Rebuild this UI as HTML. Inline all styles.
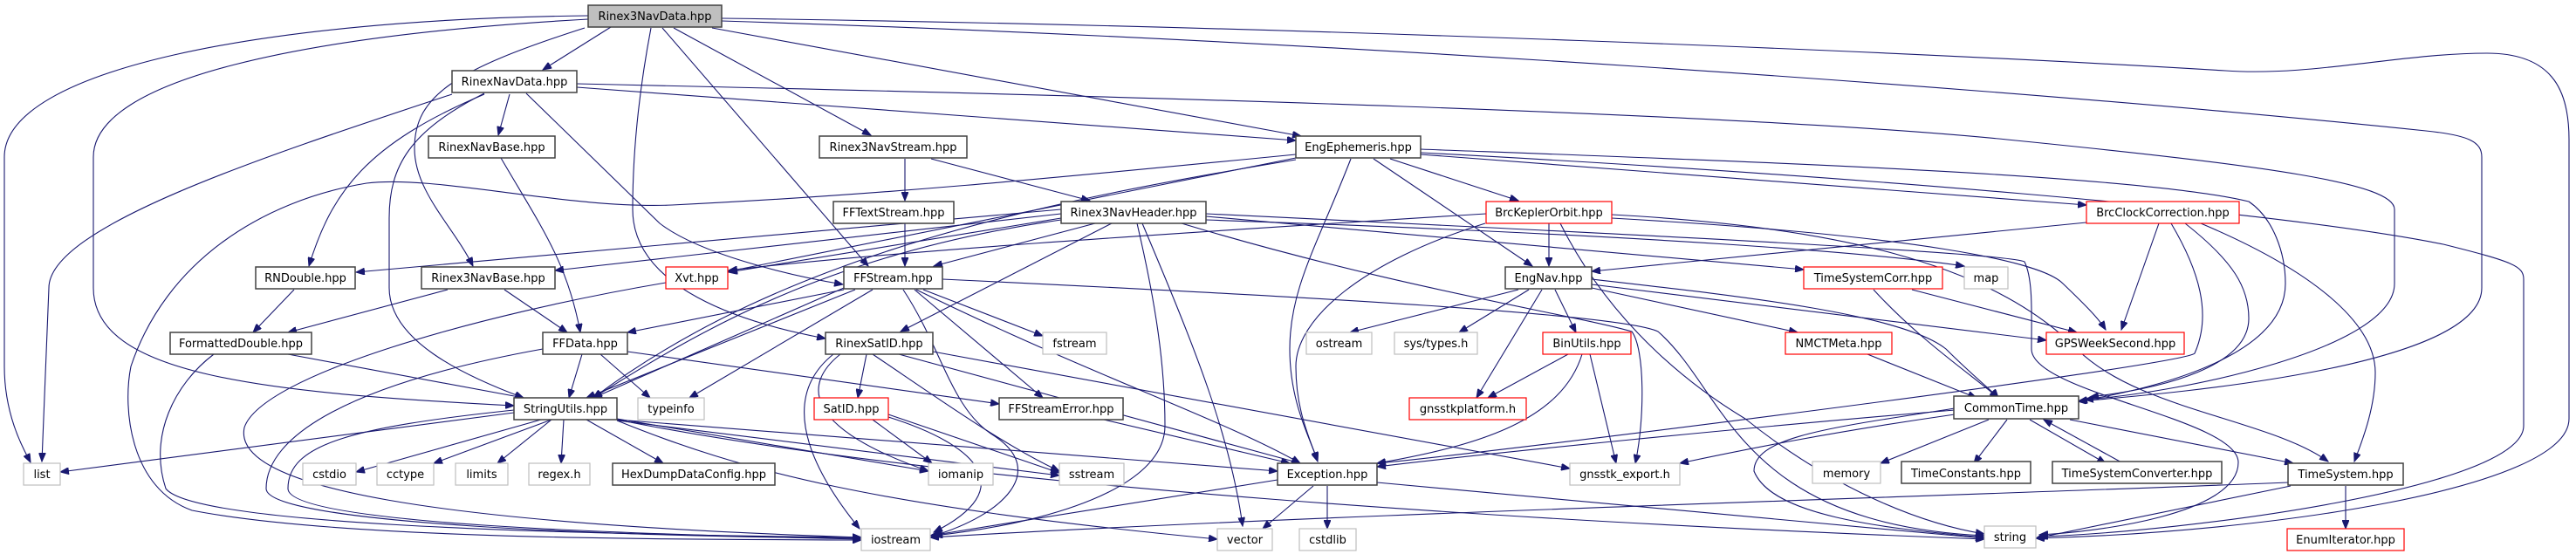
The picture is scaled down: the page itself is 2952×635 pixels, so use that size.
<!DOCTYPE html>
<html><head><meta charset="utf-8"><style>
html,body{margin:0;padding:0;background:#fff}
svg{display:block}
text{font-family:"DejaVu Sans","Liberation Sans",sans-serif;font-size:13px;text-anchor:middle;fill:#000}
.e{fill:none;stroke:#191970;stroke-width:1.1}
.n{fill:#fff;stroke:#404040;stroke-width:1.5}
.g{fill:#fff;stroke:#bfbfbf;stroke-width:1.2}
.r{fill:#fff;stroke:#ff0000;stroke-width:1.2}
</style></head><body>
<svg width="2952" height="635" viewBox="0 0 2952 635" xmlns="http://www.w3.org/2000/svg">
<defs><marker id="a" markerWidth="11" markerHeight="8" refX="10" refY="4" orient="auto" markerUnits="userSpaceOnUse"><path d="M0,0 L10,4 L0,8z" fill="#191970" stroke="#191970"/></marker></defs>
<g class="e" marker-end="url(#a)">
<path d="M674,18 C300,22 5,80 5,180 L5,420 C5,480 30,520 35,530"/>
<path d="M674,22 C350,40 107,90 107,180 L107,330 C107,430 300,450 589,465"/>
<path d="M700,31 L622,80"/>
<path d="M670,32 C520,80 475,110 475,170 C475,220 520,260 542,305"/>
<path d="M746,32 C735,90 725,160 725,240 C725,330 850,370 946,388"/>
<path d="M759,32 L995,305"/>
<path d="M772,32 L998,155"/>
<path d="M816,32 L1491,156"/>
<path d="M827,21 C1500,30 2200,60 2550,81 C2650,88 2750,61 2850,61 C2930,61 2944,110 2944,160 L2944,480 C2944,560 2600,610 2333,617"/>
<path d="M827,24 C1500,45 2300,100 2780,150 C2830,155 2844,163 2844,180 L2844,330 C2844,420 2500,450 2381,460"/>
<path d="M661,96 C1300,110 2000,130 2300,160 C2600,190 2744,210 2744,240 L2744,325 C2744,400 2500,450 2389,458"/>
<path d="M661,100 L1485,161"/>
<path d="M584,108 L571,155"/>
<path d="M555,108 C420,165 380,220 354,305"/>
<path d="M518,108 C300,180 56,260 56,330 L48,529"/>
<path d="M555,107 C470,150 446,190 446,250 L446,330 C446,390 530,430 600,456"/>
<path d="M603,107 L756,256 C800,290 900,315 966,326"/>
<path d="M574,181 C620,260 650,300 665,381"/>
<path d="M1037,182 L1037,230"/>
<path d="M1067,182 L1249,230"/>
<path d="M1037,256 L1037,305"/>
<path d="M1485,177 C1200,205 1000,224 770,235 C650,240 500,200 420,210 C300,230 190,300 150,420 C140,470 150,560 220,585 C400,620 800,618 987,619"/>
<path d="M1485,181 C1300,220 1100,260 835,311"/>
<path d="M1548,182 C1510,280 1478,330 1478,400 C1478,460 1500,500 1510,528"/>
<path d="M1574,182 L1756,305"/>
<path d="M1593,182 L1740,230"/>
<path d="M1628,177 L2391,235"/>
<path d="M1628,171 C2000,185 2450,200 2577,231 C2605,250 2619,290 2619,325 C2619,400 2500,440 2382,460"/>
<path d="M1628,175 C2100,200 2600,240 2800,280 C2880,300 2892,305 2892,320 L2892,488 C2892,560 2500,610 2337,615"/>
<path d="M1485,183 C1200,230 900,290 680,456"/>
<path d="M1216,240 L408,312"/>
<path d="M1216,245 L636,310"/>
<path d="M1216,250 L835,312"/>
<path d="M1255,256 L1070,305"/>
<path d="M1216,252 C950,290 800,380 680,456"/>
<path d="M1274,256 L1032,380"/>
<path d="M1303,256 C1325,350 1335,420 1335,488 C1335,560 1200,600 1070,614"/>
<path d="M1309,256 C1370,400 1410,500 1424,603"/>
<path d="M1354,256 C1600,330 1800,360 1870,380 C1885,400 1885,480 1874,531"/>
<path d="M1382,248 L2067,309"/>
<path d="M1382,252 C1900,270 2150,290 2251,305"/>
<path d="M1382,245 C1900,270 2300,290 2320,300 C2330,320 2328,360 2328,400 C2328,450 2565,480 2565,530 C2565,590 2400,610 2337,613"/>
<path d="M1775,256 L1775,305"/>
<path d="M1703,245 C1300,270 1000,290 835,310"/>
<path d="M1702,256 C1560,300 1485,366 1485,420 C1485,470 1500,500 1510,529"/>
<path d="M1847,250 C2200,270 2340,300 2364,325 C2390,350 2405,365 2413,378"/>
<path d="M1847,246 C2100,260 2280,300 2380,400 C2450,470 2600,480 2668,529"/>
<path d="M1788,256 C1850,380 1950,450 2000,480 C2100,560 2200,600 2274,612"/>
<path d="M2391,255 L1824,311"/>
<path d="M2474,256 L2431,378"/>
<path d="M2504,256 C2560,300 2577,330 2577,365 C2577,420 2480,445 2395,455"/>
<path d="M2488,256 C2520,310 2535,360 2515,405 C2500,420 1700,520 1578,531"/>
<path d="M2522,256 C2650,310 2722,370 2722,427 C2722,470 2705,510 2698,529"/>
<path d="M1740,332 L1547,381"/>
<path d="M1752,332 L1672,381"/>
<path d="M1767,332 L1692,456"/>
<path d="M1782,332 L1806,381"/>
<path d="M1824,326 L2345,390"/>
<path d="M1824,330 L2060,381"/>
<path d="M1824,320 C2000,340 2180,360 2230,400 C2260,430 2285,450 2290,456"/>
<path d="M1797,406 L1705,456"/>
<path d="M1813,406 C1790,480 1700,510 1578,531"/>
<path d="M1822,406 L1852,531"/>
<path d="M763,324 C550,360 300,430 280,490 C265,560 500,600 987,616"/>
<path d="M2147,332 C2200,390 2260,430 2290,456"/>
<path d="M2191,332 L2380,381"/>
<path d="M2140,406 L2265,456"/>
<path d="M2279,481 L2155,531"/>
<path d="M2300,481 L2262,531"/>
<path d="M2326,481 L2413,531"/>
<path d="M2433,531 L2342,481"/>
<path d="M2372,481 L2628,531"/>
<path d="M2240,470 C2000,490 1700,520 1578,535"/>
<path d="M2240,475 C2100,495 2000,515 1925,531"/>
<path d="M2240,468 C2100,490 2010,500 2010,540 C2030,590 2150,605 2274,616"/>
<path d="M2688,557 L2688,606"/>
<path d="M2625,557 L2333,617"/>
<path d="M2622,553 C2200,570 1500,590 1066,616"/>
<path d="M589,473 L69,541"/>
<path d="M620,481 L408,541"/>
<path d="M632,481 L497,531"/>
<path d="M632,481 L570,531"/>
<path d="M646,481 L643,531"/>
<path d="M672,481 L760,531"/>
<path d="M589,470 C400,490 330,510 330,560 C330,600 700,612 987,618"/>
<path d="M707,480 L1064,540"/>
<path d="M707,482 L1214,545"/>
<path d="M707,481 L1464,540"/>
<path d="M707,482 C850,540 1000,580 1395,618"/>
<path d="M707,481 C1100,560 1800,600 2274,618"/>
<path d="M967,332 L719,381"/>
<path d="M967,330 L680,456"/>
<path d="M980,332 L672,456"/>
<path d="M1000,332 L790,456"/>
<path d="M1058,332 L1195,385"/>
<path d="M1048,332 L1195,456"/>
<path d="M1050,332 C1250,430 1400,480 1490,531"/>
<path d="M1035,332 C1080,400 1090,470 1140,500 C1200,540 1150,590 1070,614"/>
<path d="M1080,320 C1500,340 1860,360 1900,380 C1980,450 1990,600 2274,614"/>
<path d="M667,406 L652,456"/>
<path d="M688,406 L745,456"/>
<path d="M622,400 C400,440 305,500 305,560 C305,600 700,615 987,617"/>
<path d="M719,403 L1145,463"/>
<path d="M330,406 L600,456"/>
<path d="M245,406 C200,440 170,500 190,560 C220,600 600,612 987,616"/>
<path d="M337,332 L290,381"/>
<path d="M513,332 L330,381"/>
<path d="M578,332 L650,381"/>
<path d="M993,406 L983,456"/>
<path d="M963,406 C920,440 920,490 1064,540"/>
<path d="M955,406 C900,450 915,520 985,606"/>
<path d="M1000,406 C1080,460 1150,510 1214,540"/>
<path d="M1030,406 L1490,531"/>
<path d="M1069,403 L1799,537"/>
<path d="M1000,481 L1068,531"/>
<path d="M1018,475 L1214,542"/>
<path d="M1018,478 C1120,510 1170,560 1070,610"/>
<path d="M1265,481 L1478,531"/>
<path d="M1464,550 L1066,614"/>
<path d="M1505,557 L1447,606"/>
<path d="M1521,557 L1521,606"/>
<path d="M1578,553 L2274,617"/>
</g>
<g>
<rect x="674" y="6" width="153" height="25" fill="#bfbfbf" stroke="#404040" stroke-width="1.5"/><text x="750.5" y="23">Rinex3NavData.hpp</text>
<rect class="n" x="518" y="81" width="143" height="25"/><text x="589.5" y="98">RinexNavData.hpp</text>
<rect class="n" x="491" y="156" width="145" height="25"/><text x="563.5" y="173">RinexNavBase.hpp</text>
<rect class="n" x="939" y="156" width="169" height="25"/><text x="1023.5" y="173">Rinex3NavStream.hpp</text>
<rect class="n" x="1485" y="156" width="143" height="25"/><text x="1556.5" y="173">EngEphemeris.hpp</text>
<rect class="n" x="955" y="231" width="138" height="25"/><text x="1024" y="248">FFTextStream.hpp</text>
<rect class="n" x="1216" y="231" width="166" height="25"/><text x="1299" y="248">Rinex3NavHeader.hpp</text>
<rect class="r" x="1703" y="231" width="144" height="25"/><text x="1775" y="248">BrcKeplerOrbit.hpp</text>
<rect class="r" x="2391" y="231" width="175" height="25"/><text x="2478.5" y="248">BrcClockCorrection.hpp</text>
<rect class="n" x="293" y="306" width="114" height="25"/><text x="350" y="323">RNDouble.hpp</text>
<rect class="n" x="483" y="306" width="153" height="25"/><text x="559.5" y="323">Rinex3NavBase.hpp</text>
<rect class="r" x="763" y="306" width="71" height="25"/><text x="798.5" y="323">Xvt.hpp</text>
<rect class="n" x="967" y="306" width="113" height="25"/><text x="1023.5" y="323">FFStream.hpp</text>
<rect class="n" x="1725" y="306" width="99" height="25"/><text x="1774.5" y="323">EngNav.hpp</text>
<rect class="r" x="2067" y="306" width="159" height="25"/><text x="2146.5" y="323">TimeSystemCorr.hpp</text>
<rect class="g" x="2251" y="306" width="50" height="25"/><text x="2276" y="323">map</text>
<rect class="n" x="195" y="381" width="162" height="25"/><text x="276" y="398">FormattedDouble.hpp</text>
<rect class="n" x="622" y="381" width="97" height="25"/><text x="670.5" y="398">FFData.hpp</text>
<rect class="n" x="946" y="381" width="123" height="25"/><text x="1007.5" y="398">RinexSatID.hpp</text>
<rect class="g" x="1195" y="381" width="73" height="25"/><text x="1231.5" y="398">fstream</text>
<rect class="g" x="1497" y="381" width="75" height="25"/><text x="1534.5" y="398">ostream</text>
<rect class="g" x="1598" y="381" width="95" height="25"/><text x="1645.5" y="398">sys/types.h</text>
<rect class="r" x="1768" y="381" width="101" height="25"/><text x="1818.5" y="398">BinUtils.hpp</text>
<rect class="r" x="2046" y="381" width="122" height="25"/><text x="2107" y="398">NMCTMeta.hpp</text>
<rect class="r" x="2345" y="381" width="158" height="25"/><text x="2424" y="398">GPSWeekSecond.hpp</text>
<rect class="n" x="589" y="456" width="118" height="25"/><text x="648" y="473">StringUtils.hpp</text>
<rect class="g" x="731" y="456" width="76" height="25"/><text x="769" y="473">typeinfo</text>
<rect class="r" x="933" y="456" width="85" height="25"/><text x="975.5" y="473">SatID.hpp</text>
<rect class="n" x="1145" y="456" width="142" height="25"/><text x="1216" y="473">FFStreamError.hpp</text>
<rect class="r" x="1615" y="456" width="134" height="25"/><text x="1682" y="473">gnsstkplatform.h</text>
<rect class="n" x="2239" y="454" width="143" height="26"/><text x="2310.5" y="472">CommonTime.hpp</text>
<rect class="g" x="27" y="531" width="42" height="25"/><text x="48" y="548">list</text>
<rect class="g" x="347" y="531" width="61" height="25"/><text x="377.5" y="548">cstdio</text>
<rect class="g" x="432" y="531" width="65" height="25"/><text x="464.5" y="548">cctype</text>
<rect class="g" x="522" y="531" width="60" height="25"/><text x="552" y="548">limits</text>
<rect class="g" x="606" y="531" width="70" height="25"/><text x="641" y="548">regex.h</text>
<rect class="n" x="702" y="531" width="186" height="25"/><text x="795" y="548">HexDumpDataConfig.hpp</text>
<rect class="g" x="1064" y="531" width="74" height="25"/><text x="1101" y="548">iomanip</text>
<rect class="g" x="1214" y="531" width="74" height="25"/><text x="1251" y="548">sstream</text>
<rect class="n" x="1464" y="531" width="114" height="25"/><text x="1521" y="548">Exception.hpp</text>
<rect class="g" x="1799" y="531" width="126" height="25"/><text x="1862" y="548">gnsstk_export.h</text>
<rect class="g" x="2077" y="529" width="78" height="25"/><text x="2116" y="547">memory</text>
<rect class="n" x="2179" y="529" width="148" height="25"/><text x="2253" y="547">TimeConstants.hpp</text>
<rect class="n" x="2352" y="529" width="194" height="25"/><text x="2449" y="547">TimeSystemConverter.hpp</text>
<rect class="n" x="2622" y="531" width="132" height="25"/><text x="2688" y="548">TimeSystem.hpp</text>
<rect class="g" x="987" y="606" width="79" height="25"/><text x="1026.5" y="623">iostream</text>
<rect class="g" x="1395" y="606" width="63" height="25"/><text x="1426.5" y="623">vector</text>
<rect class="g" x="1489" y="606" width="65" height="25"/><text x="1521.5" y="623">cstdlib</text>
<rect class="g" x="2274" y="603" width="59" height="25"/><text x="2303.5" y="620">string</text>
<rect class="r" x="2621" y="606" width="134" height="25"/><text x="2688" y="623">EnumIterator.hpp</text>
</g>
</svg>
</body></html>
